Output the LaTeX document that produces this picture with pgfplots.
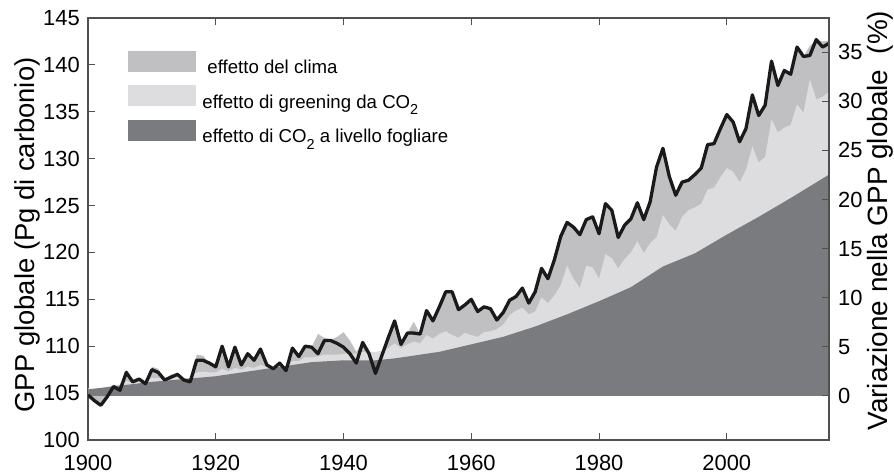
\documentclass[border=0pt]{standalone}
\usepackage{fontspec}
\setmainfont{Liberation Sans}
\usepackage{pgfplots}
\usepackage{pgfplotstable}
\pgfplotsset{compat=1.18}
\usepgfplotslibrary{fillbetween}
\usetikzlibrary{calc}
\definecolor{cdark}{HTML}{7A7B7F}
\definecolor{clight}{HTML}{DDDDDF}
\definecolor{cmid}{HTML}{C0C0C2}
\definecolor{cline}{HTML}{1A1A1A}
\definecolor{cframe}{HTML}{505050}

\pgfplotstableread{
year v
1900 104.8
1901 104.2
1902 103.7
1903 104.6
1904 105.7
1905 105.3
1906 107.2
1907 106.2
1908 106.5
1909 106.0
1910 107.5
1911 107.2
1912 106.4
1913 106.7
1914 107.0
1915 106.4
1916 106.2
1917 108.5
1918 108.5
1919 108.2
1920 107.8
1921 110.0
1922 107.8
1923 109.9
1924 108.0
1925 109.2
1926 108.5
1927 109.7
1928 108.0
1929 107.6
1930 108.2
1931 107.4
1932 109.8
1933 108.9
1934 110.0
1935 109.9
1936 109.2
1937 110.6
1938 110.6
1939 110.3
1940 109.9
1941 109.2
1942 108.2
1943 110.4
1944 109.2
1945 107.1
1946 109.0
1947 110.9
1948 112.7
1949 110.2
1950 111.4
1951 111.4
1952 111.3
1953 113.8
1954 112.7
1955 114.2
1956 115.8
1957 115.8
1958 113.9
1959 114.4
1960 115.0
1961 113.7
1962 114.2
1963 114.0
1964 112.8
1965 113.6
1966 114.9
1967 115.3
1968 116.2
1969 114.6
1970 115.8
1971 118.3
1972 117.2
1973 119.2
1974 121.7
1975 123.2
1976 122.7
1977 121.9
1978 123.5
1979 123.8
1980 122.0
1981 125.2
1982 124.5
1983 121.6
1984 122.9
1985 123.6
1986 125.3
1987 123.5
1988 125.4
1989 129.1
1990 131.1
1991 128.1
1992 126.1
1993 127.5
1994 127.7
1995 128.3
1996 129.0
1997 131.5
1998 131.6
1999 133.2
2000 134.7
2001 133.9
2002 131.8
2003 133.2
2004 136.8
2005 134.6
2006 135.7
2007 140.4
2008 137.8
2009 139.4
2010 139.0
2011 141.9
2012 140.9
2013 141.0
2014 142.7
2015 141.9
2016 142.3
}\tot

\pgfplotstableread{
year v
1900 104.8
1901 104.2
1902 103.7
1903 104.6
1904 105.7
1905 105.3
1906 107.5
1907 106.2
1908 106.5
1909 106.0
1910 107.8
1911 107.6
1912 106.4
1913 107.0
1914 107.0
1915 106.4
1916 106.2
1917 109.1
1918 109.0
1919 108.2
1920 107.8
1921 110.0
1922 107.8
1923 109.9
1924 108.0
1925 109.2
1926 108.5
1927 109.7
1928 108.0
1929 107.6
1930 108.2
1931 107.4
1932 109.8
1933 108.9
1934 110.0
1935 109.9
1936 111.3
1937 110.9
1938 110.7
1939 111.0
1940 111.5
1941 110.6
1942 109.4
1943 110.4
1944 109.2
1945 107.1
1946 109.0
1947 110.9
1948 112.7
1949 110.2
1950 111.4
1951 112.6
1952 111.3
1953 113.8
1954 112.7
1955 114.2
1956 115.8
1957 115.8
1958 113.9
1959 114.4
1960 115.0
1961 113.7
1962 114.2
1963 114.0
1964 112.8
1965 113.6
1966 114.9
1967 115.3
1968 116.2
1969 114.6
1970 115.8
1971 118.3
1972 117.2
1973 119.2
1974 121.7
1975 123.2
1976 122.7
1977 121.9
1978 123.5
1979 123.8
1980 122.0
1981 125.2
1982 124.5
1983 121.6
1984 122.9
1985 123.6
1986 125.3
1987 123.5
1988 125.4
1989 129.1
1990 131.1
1991 128.1
1992 126.1
1993 127.5
1994 127.7
1995 128.3
1996 129.0
1997 131.5
1998 131.6
1999 133.2
2000 134.7
2001 133.9
2002 131.8
2003 133.2
2004 136.8
2005 134.6
2006 135.7
2007 140.4
2008 137.8
2009 139.4
2010 139.0
2011 141.9
2012 140.9
2013 142.0
2014 142.7
2015 142.5
2016 142.6
}\clim

\pgfplotstableread{
year v
1900 105.5
1901 105.4
1902 105.4
1903 105.6
1904 105.9
1905 105.9
1906 106.3
1907 106.1
1908 106.2
1909 106.2
1910 106.6
1911 106.6
1912 106.5
1913 106.6
1914 106.7
1915 106.6
1916 106.6
1917 107.2
1918 107.3
1919 107.2
1920 107.2
1921 107.6
1922 107.3
1923 107.7
1924 107.5
1925 107.8
1926 107.7
1927 108.0
1928 107.8
1929 107.6
1930 107.9
1931 107.6
1932 108.4
1933 108.4
1934 108.8
1935 108.8
1936 108.9
1937 109.1
1938 109.1
1939 109.1
1940 109.2
1941 109.2
1942 109.2
1943 109.4
1944 109.4
1945 109.4
1946 109.5
1947 109.8
1948 110.3
1949 109.8
1950 110.2
1951 110.5
1952 110.3
1953 111.2
1954 110.8
1955 111.3
1956 111.6
1957 111.2
1958 110.9
1959 111.4
1960 111.2
1961 111.0
1962 111.5
1963 111.6
1964 111.8
1965 112.3
1966 113.3
1967 113.8
1968 114.1
1969 113.4
1970 113.7
1971 115.2
1972 114.6
1973 115.4
1974 116.5
1975 118.6
1976 117.2
1977 116.2
1978 118.6
1979 118.4
1980 117.2
1981 119.8
1982 119.4
1983 118.3
1984 119.3
1985 120.0
1986 121.2
1987 119.9
1988 121.0
1989 121.6
1990 124.0
1991 123.0
1992 122.3
1993 123.8
1994 124.5
1995 124.8
1996 125.2
1997 126.7
1998 126.9
1999 128.0
2000 129.0
2001 128.6
2002 127.5
2003 128.8
2004 131.3
2005 129.6
2006 130.2
2007 134.2
2008 132.8
2009 133.3
2010 133.6
2011 135.8
2012 134.9
2013 138.5
2014 136.3
2015 136.6
2016 137.1
}\green

\pgfplotstableread{
year v
1900 105.4
1905 105.8
1910 106.2
1915 106.5
1920 106.8
1925 107.3
1930 107.8
1935 108.3
1940 108.5
1945 108.5
1948 108.7
1950 108.9
1955 109.4
1960 110.2
1965 111.0
1970 112.1
1975 113.4
1980 114.8
1985 116.3
1990 118.5
1995 119.9
2000 121.9
2005 123.8
2010 125.8
2016 128.3
}\leaf

\begin{document}
\begin{tikzpicture}
\begin{axis}[
  width=741bp, height=422bp, scale only axis,
  xmin=1900, xmax=2016, ymin=100, ymax=145,
  xtick={1900,1920,...,2000}, ytick={100,105,...,145},
  xtick pos=both, ytick pos=left, tick align=inside,
  major tick length=7bp,
  axis line style={cframe, line width=1.2bp},
  tick style={cframe, line width=1bp},
  /pgf/number format/1000 sep={},
  /pgf/number format/assume math mode=true,
  ticklabel style={font=\fontsize{22}{26}\selectfont},
  xticklabel style={anchor=north, inner sep=0pt, yshift=-15bp},
  yticklabel style={anchor=east, inner sep=0pt, xshift=-8bp},
  ylabel={GPP globale (Pg di carbonio)},
  ylabel style={font=\fontsize{27.5}{33}\selectfont, at={(axis description cs:-0.0823,0.486)}, anchor=center},
  legend style={at={(axis description cs:0.054,0.9225)}, anchor=north west, draw=none, fill=none,
    inner sep=0pt, outer sep=0pt, row sep=8bp, column sep=7bp,
    font=\fontsize{18.7}{22}\selectfont,
    nodes={inner sep=0pt, text height=14bp, text depth=4bp}},
  legend cell align=left,
]
\addplot[name path=base, draw=none, forget plot] coordinates {(1900,104.7) (2016,104.7)};
\addplot[name path=C, draw=none, forget plot] table[x=year, y=v] {\clim};
\addplot[name path=G, draw=none, forget plot] table[x=year, y=v] {\green};
\addplot[name path=L, draw=none, forget plot] table[x=year, y=v] {\leaf};
\addplot[fill=cmid, draw=none, forget plot] fill between[of=C and base];
\addplot[fill=clight, draw=none, forget plot] fill between[of=G and base];
\addplot[fill=cdark, draw=none, forget plot] fill between[of=L and base];
\addplot[cline, line width=3.3bp, line join=round, forget plot] table[x=year, y=v] {\tot};
\addlegendimage{legend image code/.code={\fill[cmid] (0bp,-2.5bp) rectangle (67bp,17.5bp);}}
\addlegendentry{\hspace{5bp}effetto del clima}
\addlegendimage{legend image code/.code={\fill[clight] (0bp,-2.5bp) rectangle (67bp,17.5bp);}}
\addlegendentry{effetto di greening da CO\raisebox{-0.65ex}{\fontsize{14.5}{14.5}\selectfont 2}}
\addlegendimage{legend image code/.code={\fill[cdark] (0bp,-2.5bp) rectangle (67bp,17.5bp);}}
\addlegendentry{effetto di CO\raisebox{-0.65ex}{\fontsize{14.5}{14.5}\selectfont 2} a livello fogliare}
\end{axis}
\begin{axis}[
  width=741bp, height=422bp, scale only axis,
  xmin=1900, xmax=2016, ymin=-4.49, ymax=38.49,
  axis x line=none, axis y line*=right,
  ytick={0,5,...,35}, tick align=inside, major tick length=7bp,
  axis line style={cframe, line width=1.2bp},
  tick style={cframe, line width=1bp},
  /pgf/number format/assume math mode=true,
  ticklabel style={font=\fontsize{22}{26}\selectfont},
  yticklabel style={anchor=west, inner sep=0pt, xshift=9bp},
  ylabel={Variazione nella GPP globale\ \ (\%)},
  ylabel style={font=\fontsize{28}{33}\selectfont, at={(axis description cs:1.0688,0.52)}, anchor=center},
]
\addplot[draw=none] coordinates {(1900,0)};
\end{axis}
\pgfresetboundingbox
\path[use as bounding box] ($(current axis.south west)+(-88bp,-34bp)$) rectangle ($(current axis.north east)+(65bp,18bp)$);
\end{tikzpicture}
\end{document}
